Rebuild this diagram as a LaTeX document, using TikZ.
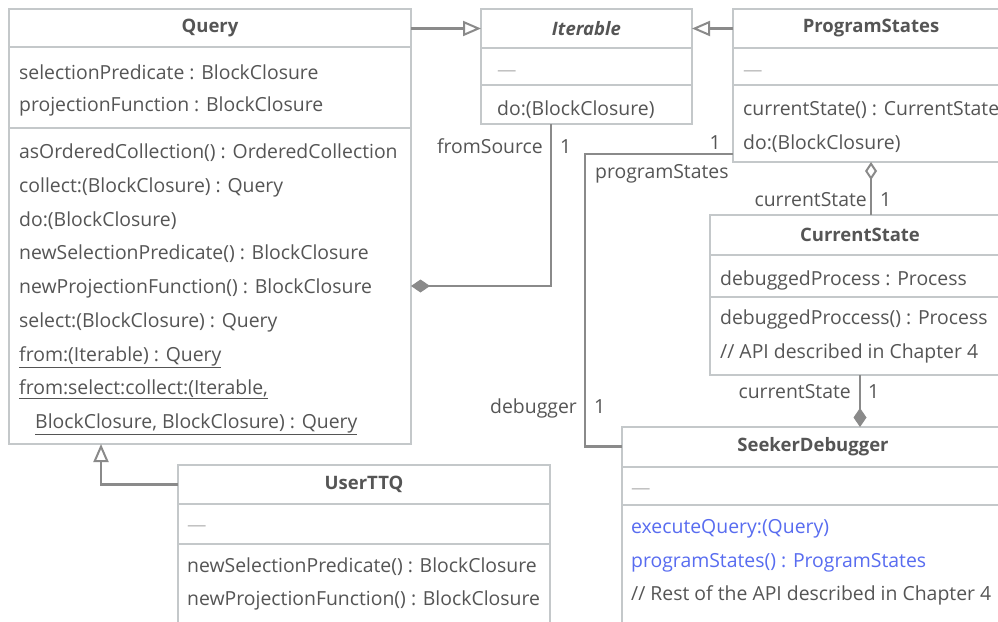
\documentclass[tikz,border=0pt]{standalone}
\usepackage{fontspec}
\setmainfont{Open Sans}
\usetikzlibrary{arrows.meta}
\definecolor{boxgray}{RGB}{196,200,202}
\definecolor{linegray}{RGB}{138,138,138}
\definecolor{txtgray}{RGB}{85,85,85}
\definecolor{dashgray}{RGB}{190,190,190}
\definecolor{apiblue}{RGB}{88,108,240}
\tikzset{
	box/.style={draw=boxgray,line width=2.8pt,fill=white,anchor=north west,inner sep=0pt,outer sep=0pt},
	title/.style={anchor=north west,inner sep=0pt,outer sep=0pt,minimum height=39pt,font=\fontsize{18.5}{22}\selectfont\bfseries,text=txtgray},
	row/.style={anchor=base west,inner sep=0pt,text=txtgray},
	nil/.style={anchor=base west,inner sep=0pt,text=dashgray},
	sep/.style={draw=boxgray,line width=2.8pt},
	lab/.style={inner sep=0pt,text=txtgray},
	conn/.style={draw=linegray,line width=2.8pt},
	gen/.style={conn,-{Triangle[open,length=18pt,width=15pt,line width=2pt]}},
	comp/.style={conn,-{Diamond[length=19pt,width=13pt]}},
	aggr/.style={conn,{Diamond[open,length=18pt,width=12pt,line width=2pt]}-}
}
\begin{document}
\begin{tikzpicture}[x=1pt,y=-1pt,font=\fontsize{19.4}{23}\selectfont]
	\useasboundingbox (0,0) rectangle (998,621);
	\clip (0,0) rectangle (998,621);
	\node[box,minimum width=402pt,minimum height=435pt] (query) at (9,9) {};
	\node[box,minimum width=211pt,minimum height=115pt] (iter) at (481,9) {};
	\node[box,minimum width=276pt,minimum height=153pt] (prog) at (733,9) {};
	\node[box,minimum width=300pt,minimum height=160pt] (cur) at (710,215) {};
	\node[box,minimum width=382pt,minimum height=250pt] (seek) at (622,427) {};
	\node[box,minimum width=372pt,minimum height=200pt] (user) at (178,465) {};
	\draw[sep] (9,47) -- (411,47);
	\draw[sep] (9,128) -- (411,128);
	\draw[sep] (481,48) -- (692,48);
	\draw[sep] (481,85) -- (692,85);
	\draw[sep] (733,48) -- (1009,48);
	\draw[sep] (733,85) -- (1009,85);
	\draw[sep] (710,255) -- (1010,255);
	\draw[sep] (710,297) -- (1010,297);
	\draw[sep] (622,467) -- (1004,467);
	\draw[sep] (622,505) -- (1004,505);
	\draw[sep] (178,504) -- (550,504);
	\draw[sep] (178,544) -- (550,544);
	\node[title,minimum width=402pt] (queryT) at (9,9) {Query};
	\node[title,minimum width=211pt] (iterT) at (481,9) {\itshape Iterable};
	\node[title,minimum width=276pt] (progT) at (733,9) {ProgramStates};
	\node[title,minimum width=300pt] (curT) at (710,215) {CurrentState};
	\node[title,minimum width=382pt] (seekT) at (622,427) {SeekerDebugger};
	\node[title,minimum width=372pt] (userT) at (178,465) {UserTTQ};
	\node[row] (q1) at (19,79) {selectionPredicate : BlockClosure};
	\node[row] (q2) at (19,111) {projectionFunction : BlockClosure};
	\node[row] (q3) at (19,158) {asOrderedCollection() : OrderedCollection};
	\node[row] (q4) at (19,192) {collect:(BlockClosure) : Query};
	\node[row] (q5) at (19,226) {do:(BlockClosure)};
	\node[row] (q6) at (19,259) {newSelectionPredicate() : BlockClosure};
	\node[row] (q7) at (19,293) {newProjectionFunction() : BlockClosure};
	\node[row] (q8) at (19,327) {select:(BlockClosure) : Query};
	\node[row] (q9) at (19,361) {\underline{from:(Iterable) : Query}};
	\node[row] (q10) at (19,394) {\underline{from:select:collect:(Iterable,}};
	\node[row] (q11) at (35,428) {\underline{BlockClosure, BlockClosure) : Query}};
	\node[nil] (i1) at (497,76) {—};
	\node[row] (i2) at (497,115) {do:(BlockClosure)};
	\node[nil] (p1) at (743,76) {—};
	\node[row] (p2) at (743,115) {currentState() : CurrentState};
	\node[row] (p3) at (743,149) {do:(BlockClosure)};
	\node[row] (c1) at (720,285) {debuggedProcess : Process};
	\node[row] (c2) at (720,324) {debuggedProccess() : Process};
	\node[row] (c3) at (720,358) {// API described in Chapter 4};
	\node[nil] (s1) at (631,494) {—};
	\node[row,text=apiblue] (s2) at (631,533) {executeQuery:(Query)};
	\node[row,text=apiblue] (s3) at (631,567) {programStates() : ProgramStates};
	\node[row] (s4) at (631,600) {// Rest of the API described in Chapter 4};
	\node[nil] (u1) at (187,531) {—};
	\node[row] (u2) at (187,572) {newSelectionPredicate() : BlockClosure};
	\node[row] (u3) at (187,605) {newProjectionFunction() : BlockClosure};
	\draw[gen] (queryT.east) -- (iterT.west);
	\draw[gen] (progT.west) -- (iterT.east);
	\draw[comp] ([xshift=70pt]iter.south west) |- (query.east |- 0,286);
	\draw[conn] (prog.west |- 0,154) -| ([xshift=-37pt]seekT.west) -- (seekT.west);
	\draw[aggr] (prog.south) -- (prog.south |- cur.north);
	\draw[comp] (cur.south) -- (cur.south |- seek.north);
	\draw[gen] (userT.west) -| ([xshift=92pt]query.south west);
	\node[lab,anchor=base east] (fsL) at (543,153) {fromSource};
	\node[lab,anchor=base west] (fsN) at (560,153) {1};
	\node[lab,anchor=base east] (psN) at (721,149) {1};
	\node[lab,anchor=base west] (psL) at (595,178) {programStates};
	\node[lab,anchor=base east] (dbL) at (577,413) {debugger};
	\node[lab,anchor=base west] (dbN) at (594,413) {1};
	\node[lab,anchor=base east] (csL) at (867,206) {currentState};
	\node[lab,anchor=base west] (csN) at (880,206) {1};
	\node[lab,anchor=base east] (cs2L) at (851,398) {currentState};
	\node[lab,anchor=base west] (cs2N) at (868,398) {1};
\end{tikzpicture}
\end{document}
